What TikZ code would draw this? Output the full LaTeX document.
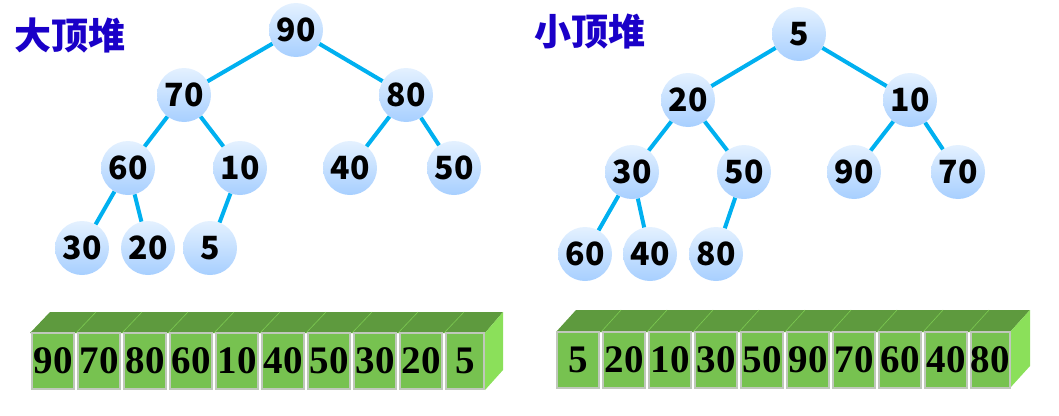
\documentclass[tikz,border=0pt]{standalone}
\usepackage{fontspec}
\setmainfont{Liberation Serif}
\newfontfamily\cjk{Noto Sans CJK SC}
\usetikzlibrary{positioning}

\definecolor{edgeblue}{HTML}{00B0F0}
\definecolor{titleblue}{HTML}{1A00C8}
\definecolor{ballhi}{HTML}{E4F1FF}
\definecolor{balllo}{HTML}{A7CFFF}
\definecolor{celltop}{HTML}{5E9A3E}
\definecolor{cellfront}{HTML}{77C250}
\definecolor{cellside}{HTML}{8BE05A}
\definecolor{cellline}{HTML}{C0C8BC}

\begin{document}
\begin{tikzpicture}[x=1pt,y=-1pt,
 key/.style={circle,inner sep=0pt,minimum size=54pt,top color=ballhi,bottom color=balllo,
   font=\cjk\bfseries\fontsize{32}{32}\selectfont},
 edge/.style={draw=edgeblue,line width=4pt},
 title/.style={text=titleblue,font=\cjk\bfseries\fontsize{37}{37}\selectfont},
 cell/.style={draw=cellline,line width=2pt,fill=cellfront,minimum width=42pt,minimum height=56pt,
   inner sep=0pt,font=\bfseries\fontsize{39}{39}\selectfont}]
\useasboundingbox (0,0) rectangle (1059,415);

% big heap
\node[title] (tmax) at (70,35) {大顶堆};
\node[key] (l90) at (296,30) {90};
\node[key] (l70) at (184,95) {70};
\node[key] (l80) at (406,95) {80};
\node[key] (l60) at (128,168) {60};
\node[key] (l10) at (240,168) {10};
\node[key] (l40) at (350,168) {40};
\node[key] (l50) at (454,168) {50};
\node[key] (l30) at (82,248) {30};
\node[key] (l20) at (148,248) {20};
\node[key] (l5) at (210,248) {5};
\draw[edge] (l90) -- (l70);
\draw[edge] (l90) -- (l80);
\draw[edge] (l70) -- (l60);
\draw[edge] (l70) -- (l10);
\draw[edge] (l80) -- (l40);
\draw[edge] (l80) -- (l50);
\draw[edge] (l60) -- (l30);
\draw[edge] (l60) -- (l20);
\draw[edge] (l10) -- (l5);

% small heap
\node[title] (tmin) at (590,32) {小顶堆};
\node[key] (r5) at (799,34) {5};
\node[key] (r20) at (688,100) {20};
\node[key] (r10) at (910,100) {10};
\node[key] (r30) at (632,172) {30};
\node[key] (r50) at (744,172) {50};
\node[key] (r90) at (854,172) {90};
\node[key] (r70) at (958,172) {70};
\node[key] (r60) at (585,254) {60};
\node[key] (r40) at (650,254) {40};
\node[key] (r80) at (716,254) {80};
\draw[edge] (r5) -- (r20);
\draw[edge] (r5) -- (r10);
\draw[edge] (r20) -- (r30);
\draw[edge] (r20) -- (r50);
\draw[edge] (r10) -- (r90);
\draw[edge] (r10) -- (r70);
\draw[edge] (r30) -- (r60);
\draw[edge] (r30) -- (r40);
\draw[edge] (r50) -- (r80);

% array of the big heap
\fill[celltop] (30,333) -- (50,312) -- (503,312) -- (485,333) -- cycle;
\fill[cellside] (485,333) -- (503,312) -- (503,370) -- (485,390) -- cycle;
\foreach \x in {76,122,168,214,260,306,352,398,444}
  \draw[cellside!70!celltop,line width=0.6pt] (\x,333) -- (\x+20,312);
\node[cell] (a0) at (53,361) {90};
\node[cell] (a1) at (99,361) {70};
\node[cell] (a2) at (145,361) {80};
\node[cell] (a3) at (191,361) {60};
\node[cell] (a4) at (237,361) {10};
\node[cell] (a5) at (283,361) {40};
\node[cell] (a6) at (329,361) {50};
\node[cell] (a7) at (375,361) {30};
\node[cell] (a8) at (421,361) {20};
\node[cell,minimum width=38pt] (a9) at (465,361) {5};

% array of the small heap
\fill[celltop] (556,332) -- (576,310) -- (1030,310) -- (1010,332) -- cycle;
\fill[cellside] (1010,332) -- (1030,310) -- (1030,366) -- (1010,388) -- cycle;
\foreach \x in {601,647,693,739,785,831,877,923,969}
  \draw[cellside!70!celltop,line width=0.6pt] (\x,332) -- (\x+20,310);
\node[cell] (b0) at (578,360) {5};
\node[cell] (b1) at (624,360) {20};
\node[cell] (b2) at (670,360) {10};
\node[cell] (b3) at (716,360) {30};
\node[cell] (b4) at (762,360) {50};
\node[cell] (b5) at (808,360) {90};
\node[cell] (b6) at (854,360) {70};
\node[cell] (b7) at (900,360) {60};
\node[cell] (b8) at (946,360) {40};
\node[cell,minimum width=38pt] (b9) at (990,360) {80};
\end{tikzpicture}
\end{document}
